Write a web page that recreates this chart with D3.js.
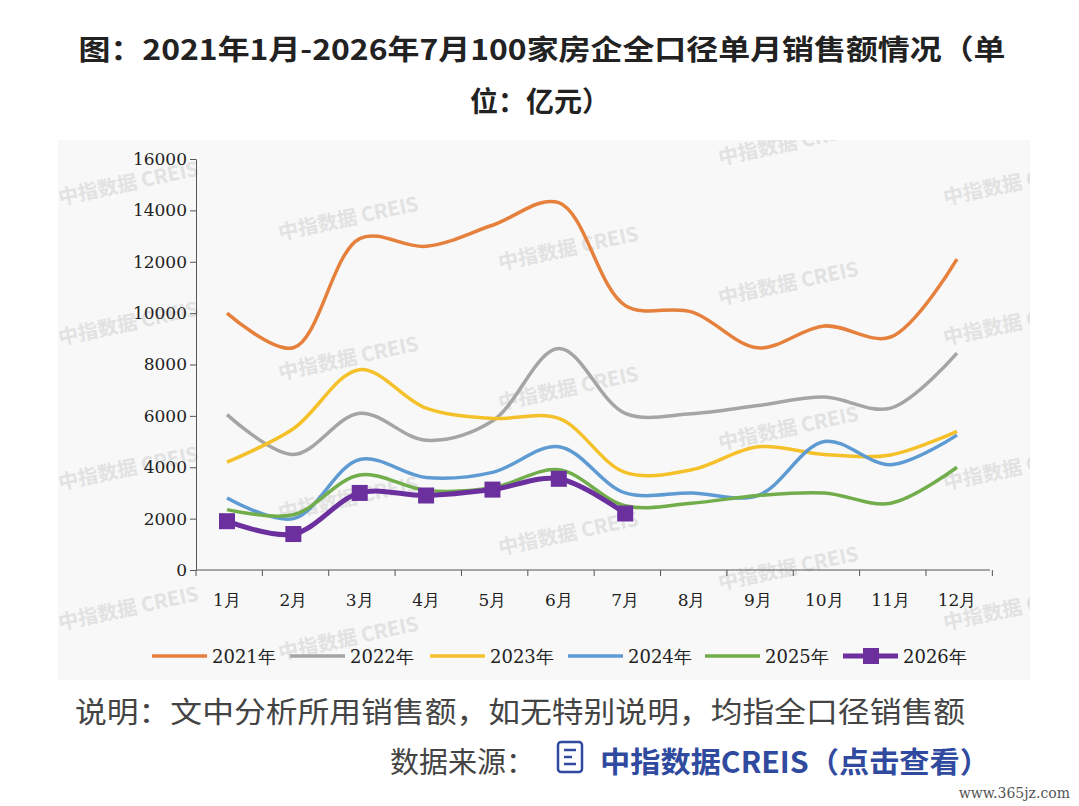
<!DOCTYPE html>
<html><head><meta charset="utf-8">
<script src="https://cdn.jsdelivr.net/npm/d3@7"></script>
<style>body{margin:0;background:#fff}svg{display:block}</style>
</head><body>
<svg id="c" width="1079" height="806"></svg>
<script>
var months = ["1月","2月","3月","4月","5月","6月","7月","8月","9月","10月","11月","12月"];
var years = ["2021年","2022年","2023年","2024年","2025年","2026年"];
var colors = ["#e5813d","#a5a5a5","#f5c12a","#5f9bd3","#72ad4c","#6b2f9e"];
var s2021 = [10000,8650,12900,12600,13420,14300,10300,10050,8650,9500,9070,12100];
var s2022 = [6050,4500,6100,5050,5800,8620,6100,6080,6400,6730,6300,8440];
var s2023 = [4200,5500,7800,6300,5900,5900,3800,3900,4800,4500,4480,5400];
var s2024 = [2800,2000,4300,3600,3800,4800,3000,3000,2900,5000,4100,5250];
var s2025 = [2350,2150,3700,3100,3200,3900,2500,2600,2900,3000,2600,4000];
var s2026 = [1900,1400,3000,2900,3130,3550,2200];
var yTicks = [0,2000,4000,6000,8000,10000,12000,14000,16000];
var series = [s2021,s2022,s2023,s2024,s2025,s2026];

var svg = d3.select("#c");
var font = "'Noto Sans CJK SC', sans-serif";
var serif = "'DejaVu Serif','Liberation Serif', serif";

svg.append("text").attr("x",542).attr("y",60).attr("text-anchor","middle")
    .attr("font-family",font).attr("font-weight","bold").attr("font-size",28).attr("fill","#222")
    .attr("textLength",927).attr("lengthAdjust","spacingAndGlyphs")
    .text("图：2021年1月-2026年7月100家房企全口径单月销售额情况（单");
svg.append("text").attr("x",540).attr("y",112).attr("text-anchor","middle")
    .attr("font-family",font).attr("font-weight","bold").attr("font-size",28).attr("fill","#222")
    .text("位：亿元）");

svg.append("clipPath").attr("id","pc").append("rect").attr("x",58).attr("y",140).attr("width",972).attr("height",540);
svg.append("rect").attr("x",58).attr("y",140).attr("width",972).attr("height",540).attr("fill","#f8f8f8");

// watermarks
var wm = [[60,205],[280,240],[500,270],[720,305],[60,345],[280,380],[500,410],[720,165],[945,205],
    [60,490],[280,520],[500,555],[720,590],[945,345],[60,630],[280,660],[945,490],[945,630],[720,450]];
var wg = svg.append("g").attr("clip-path","url(#pc)");
wm.forEach(function(p) {
    wg.append("text").attr("transform","translate("+p[0]+","+p[1]+") rotate(-12)")
        .attr("font-family",font).attr("font-weight","bold").attr("font-size",20).attr("fill","#e2e2e2")
        .text("中指数据 CREIS");
});

var x = d3.scalePoint().domain(months).range([227,957]);
var y = d3.scaleLinear().domain([0,16000]).range([570,159]);

var g = svg.append("g");
g.append("g").attr("transform","translate(196,0)")
    .call(d3.axisLeft(y).tickValues(yTicks).tickSize(6).tickSizeOuter(0).tickFormat(d3.format("d")))
    .call(function(a){a.select(".domain").attr("stroke","#555");a.selectAll("line").attr("stroke","#555");
        a.selectAll("text").attr("font-family",serif).attr("font-size",17).attr("fill","#222");});

var step = x.step();
var xa = g.append("g").attr("transform","translate(0,570)");
xa.append("line").attr("x1",196).attr("x2",990).attr("stroke","#555");
d3.range(13).forEach(function(i){
    var xx = 196 + i*step;
    xa.append("line").attr("x1",xx).attr("x2",xx).attr("y1",0).attr("y2",6).attr("stroke","#555");
});
months.forEach(function(m){
    xa.append("text").attr("x",x(m)).attr("y",36).attr("text-anchor","middle")
        .attr("font-family",serif).attr("font-size",17).attr("fill","#222").text(m);
});

var line = d3.line().x(function(d,i){return x(months[i]);}).y(function(d){return y(d);})
    .curve(d3.curveCatmullRom.alpha(0.5));
series.forEach(function(s,k){
    g.append("path").attr("d",line(s)).attr("fill","none").attr("stroke",colors[k])
        .attr("stroke-width",k===5?5:3.5);
});
g.selectAll(".mk").data(s2026).enter().append("rect")
    .attr("x",function(d,i){return x(months[i])-8;}).attr("y",function(d){return y(d)-8;})
    .attr("width",16).attr("height",16).attr("fill",colors[5]);

// legend
var lx = [152,290,430,568,705,843];
years.forEach(function(yr,k){
    var L = svg.append("g").attr("transform","translate("+lx[k]+",656)");
    L.append("line").attr("x1",0).attr("x2",55).attr("stroke",colors[k]).attr("stroke-width",k===5?5:3.5);
    if (k===5) L.append("rect").attr("x",20).attr("y",-8).attr("width",16).attr("height",16).attr("fill",colors[5]);
    L.append("text").attr("x",60).attr("y",7).attr("font-family",serif).attr("font-size",18).attr("fill","#222").text(yr);
});

svg.append("text").attr("x",75).attr("y",723).attr("font-family",font).attr("font-size",29).attr("fill","#444")
    .attr("textLength",890).attr("lengthAdjust","spacingAndGlyphs")
    .text("说明：文中分析所用销售额，如无特别说明，均指全口径销售额");
svg.append("text").attr("x",390).attr("y",773).attr("font-family",font).attr("font-size",29).attr("fill","#444")
    .text("数据来源：");
var ic = svg.append("g").attr("transform","translate(558,742)");
ic.append("rect").attr("width",24).attr("height",30).attr("rx",3).attr("fill","none").attr("stroke","#2f4a9e").attr("stroke-width",2.5);
[8,15,22].forEach(function(yy,i){ic.append("line").attr("x1",6).attr("x2",i===1?14:18).attr("y1",yy).attr("y2",yy).attr("stroke","#2f4a9e").attr("stroke-width",2.5);});
svg.append("text").attr("x",600).attr("y",773).attr("font-family",font).attr("font-weight","bold").attr("font-size",29).attr("fill","#2f4a9e")
    .attr("textLength",390).attr("lengthAdjust","spacingAndGlyphs")
    .text("中指数据CREIS（点击查看）");
svg.append("text").attr("x",1070).attr("y",798).attr("text-anchor","end").attr("font-family",serif).attr("font-size",14).attr("fill","#555")
    .text("www.365jz.com");
</script>
</body></html>
